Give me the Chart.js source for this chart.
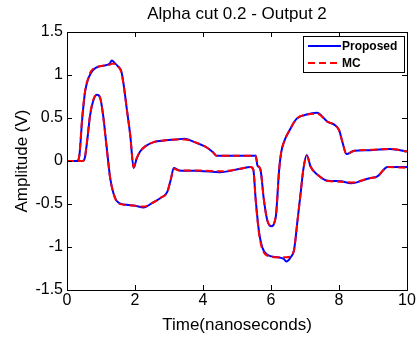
<!DOCTYPE html>
<html>
<head>
<meta charset="utf-8">
<script src="https://cdn.jsdelivr.net/npm/chart.js@4"></script>
<style>
  html, body { margin: 0; padding: 0; background: #fff; }
  #wrap { width: 417px; height: 339px; }
</style>
</head>
<body>
<div id="wrap"><canvas id="chart" width="417" height="339"></canvas></div>
<script>
// upper bound of the output (time in ns, amplitude in V)
const upperTime = [0, 0.3, 0.36, 0.45, 0.53, 0.62, 0.7, 0.8, 0.95, 1.1, 1.25, 1.32, 1.4, 1.5, 1.6, 1.68, 1.76, 1.86, 1.96,
  2.05, 2.15, 2.3, 2.55, 2.9, 3.2, 3.45, 3.75, 4.1, 4.3, 4.4, 5.0, 5.55, 5.6, 5.69, 5.79, 5.89, 6.0, 6.14, 6.24, 6.3, 6.38,
  6.55, 6.75, 7.05, 7.35, 7.65, 8.0, 8.1, 8.22, 8.45, 8.9, 9.5, 10];
const upperProposed = [0, 0, 0.05, 0.5, 0.8, 0.95, 1.02, 1.07, 1.1, 1.11, 1.13, 1.17, 1.14, 1.1, 1.04, 0.85, 0.6, 0.3, -0.08,
  0.03, 0.11, 0.17, 0.22, 0.24, 0.25, 0.26, 0.22, 0.16, 0.1, 0.06, 0.06, 0.06, -0.05, -0.1, -0.45, -0.69, -0.76, -0.65, -0.1, 0.1, 0.22,
  0.36, 0.49, 0.54, 0.56, 0.46, 0.36, 0.22, 0.08, 0.12, 0.125, 0.14, 0.11];
const upperMC = [0, 0, 0.06, 0.52, 0.81, 0.96, 1.04, 1.08, 1.1, 1.11, 1.12, 1.13, 1.13, 1.1, 1.03, 0.84, 0.6, 0.3, -0.07,
  0.03, 0.11, 0.17, 0.22, 0.24, 0.25, 0.25, 0.22, 0.16, 0.1, 0.06, 0.06, 0.06, -0.04, -0.1, -0.45, -0.69, -0.75, -0.65, -0.1, 0.1, 0.22,
  0.36, 0.49, 0.54, 0.55, 0.46, 0.36, 0.22, 0.08, 0.12, 0.13, 0.14, 0.11];

// lower bound of the output
const lowerTime = [0, 0.45, 0.52, 0.58, 0.68, 0.78, 0.88, 0.97, 1.05, 1.17, 1.27, 1.37, 1.5, 1.75, 2.0, 2.25, 2.5, 2.75, 2.95,
  3.05, 3.14, 3.3, 3.9, 4.5, 5.1, 5.4, 5.48, 5.55, 5.64, 5.74, 5.89, 6.2, 6.38, 6.45, 6.58, 6.68, 6.78, 6.87, 6.95, 7.05,
  7.17, 7.37, 7.66, 8.05, 8.35, 8.9, 9.13, 9.43, 10];
const lowerProposed = [0, 0, 0.03, 0.19, 0.53, 0.71, 0.77, 0.74, 0.57, 0.15, -0.2, -0.38, -0.48, -0.51, -0.52, -0.54, -0.49, -0.43, -0.36,
  -0.22, -0.08, -0.11, -0.115, -0.13, -0.09, -0.07, -0.1, -0.45, -0.8, -1.0, -1.09, -1.12, -1.14, -1.17, -1.12, -1.03, -0.69, -0.38, -0.1, 0.07,
  -0.07, -0.16, -0.23, -0.235, -0.26, -0.2, -0.18, -0.07, -0.07];
const lowerMC = [0, 0, 0.03, 0.2, 0.54, 0.72, 0.77, 0.74, 0.56, 0.14, -0.2, -0.38, -0.49, -0.51, -0.52, -0.53, -0.49, -0.43, -0.36,
  -0.22, -0.09, -0.11, -0.11, -0.12, -0.09, -0.07, -0.1, -0.46, -0.82, -1.02, -1.1, -1.12, -1.12, -1.12, -1.11, -1.03, -0.69, -0.38, -0.1, 0.06,
  -0.07, -0.16, -0.23, -0.24, -0.25, -0.2, -0.18, -0.07, -0.08];

const xTicks = [0, 2, 4, 6, 8, 10];
const yTicks = [-1.5, -1, -0.5, 0, 0.5, 1, 1.5];
const legendLabels = ['Proposed', 'MC'];

const toPoints = (xs, ys) => xs.map((x, i) => ({ x: x, y: ys[i] }));

const blue = '#0000ff';
const red = '#ff0000';
const FONT = '"Liberation Sans", Arial, sans-serif';

const lineStyle = (color, dashed) => ({
  borderColor: color,
  borderWidth: 2,
  borderDash: dashed ? [7, 4] : [],
  pointRadius: 0,
  fill: false,
  cubicInterpolationMode: 'monotone'
});

// box, inward ticks and legend drawn MATLAB-style
const matlabAxes = {
  id: 'matlabAxes',
  afterDatasetsDraw(chart) {
    const { ctx, chartArea: a, scales } = chart;
    ctx.save();
    ctx.strokeStyle = '#000';
    ctx.lineWidth = 1;
    ctx.setLineDash([]);
    ctx.strokeRect(a.left + 0.5, a.top + 0.5, a.right - a.left, a.bottom - a.top);
    const len = 5;
    ctx.beginPath();
    xTicks.forEach(v => {
      const px = Math.round(scales.x.getPixelForValue(v)) + 0.5;
      ctx.moveTo(px, a.bottom); ctx.lineTo(px, a.bottom - len);
      ctx.moveTo(px, a.top); ctx.lineTo(px, a.top + len);
    });
    yTicks.forEach(v => {
      const py = Math.round(scales.y.getPixelForValue(v)) + 0.5;
      ctx.moveTo(a.left, py); ctx.lineTo(a.left + len, py);
      ctx.moveTo(a.right, py); ctx.lineTo(a.right - len, py);
    });
    ctx.stroke();

    // legend box
    const bw = 101, bh = 36;
    const bx = Math.round(a.right - 3 - bw), by = Math.round(a.top + 4);
    ctx.fillStyle = '#fff';
    ctx.fillRect(bx, by, bw, bh);
    ctx.strokeRect(bx + 0.5, by + 0.5, bw, bh);
    ctx.font = 'bold 12px ' + FONT;
    ctx.textBaseline = 'middle';
    const ds = [chart.data.datasets[2], chart.data.datasets[0]];
    legendLabels.forEach((lab, i) => {
      const cy = by + 10 + i * 17;
      ctx.strokeStyle = ds[i].borderColor;
      ctx.lineWidth = 2;
      ctx.setLineDash(ds[i].borderDash);
      ctx.beginPath();
      ctx.moveTo(bx + 5, cy); ctx.lineTo(bx + 38, cy);
      ctx.stroke();
      ctx.fillStyle = '#000';
      ctx.fillText(lab, bx + 39, cy + 1);
    });
    ctx.restore();
  }
};

new Chart(document.getElementById('chart'), {
  type: 'line',
  data: {
    // first dataset is drawn on top, so MC (dashed) goes first
    datasets: [
      { label: 'MC', data: toPoints(upperTime, upperMC), ...lineStyle(red, true) },
      { label: 'MC', data: toPoints(lowerTime, lowerMC), ...lineStyle(red, true) },
      { label: 'Proposed', data: toPoints(upperTime, upperProposed), ...lineStyle(blue, false) },
      { label: 'Proposed', data: toPoints(lowerTime, lowerProposed), ...lineStyle(blue, false) }
    ]
  },
  options: {
    responsive: false,
    animation: false,
    layout: { padding: { top: 0, right: 10, left: 0, bottom: 0 } },
    plugins: {
      legend: { display: false },
      tooltip: { enabled: false },
      title: {
        display: true,
        fullSize: false,
        text: 'Alpha cut 0.2 - Output 2',
        color: '#000',
        font: { family: FONT, size: 17, weight: 'normal' },
        padding: { top: 4, bottom: 7.6 }
      }
    },
    scales: {
      x: {
        type: 'linear',
        min: 0, max: 10,
        afterBuildTicks: s => { s.ticks = xTicks.map(v => ({ value: v })); },
        afterFit: s => { s.height = 49; },
        grid: { display: false, drawTicks: false },
        border: { display: false },
        ticks: { color: '#000', padding: 1, maxRotation: 0, font: { family: FONT, size: 16 } },
        title: {
          display: true, text: 'Time(nanoseconds)', color: '#000',
          font: { family: FONT, size: 17 }, padding: { top: 0, bottom: 3 }
        }
      },
      y: {
        min: -1.5, max: 1.5,
        afterBuildTicks: s => { s.ticks = yTicks.map(v => ({ value: v })); },
        afterFit: s => { s.width = 67; },
        grid: { display: false, drawTicks: false },
        border: { display: false },
        ticks: { color: '#000', padding: 4, font: { family: FONT, size: 16 }, callback: v => String(v) },
        title: {
          display: true, text: 'Amplitude (V)', color: '#000',
          font: { family: FONT, size: 17 }, padding: { top: 12, bottom: 0 }
        }
      }
    }
  },
  plugins: [matlabAxes]
});
</script>
</body>
</html>
